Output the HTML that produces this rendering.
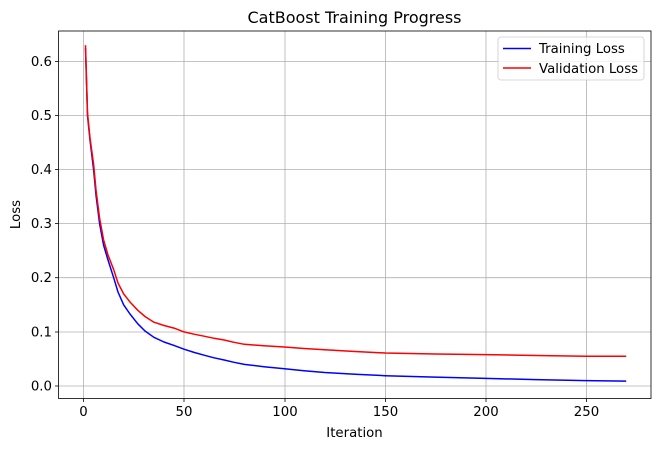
<!DOCTYPE html>
<html><head><style>body{margin:0;background:#fff}svg{display:block;font-family:"DejaVu Sans","Liberation Sans",sans-serif}</style></head><body>
<svg width="660" height="449" viewBox="0 0 660 449" xmlns="http://www.w3.org/2000/svg">
<rect width="660" height="449" fill="#fff"/>
<g stroke="#b0b0b0" stroke-width="0.8">
<line x1="83.5" y1="31" x2="83.5" y2="398.5"/><line x1="184" y1="31" x2="184" y2="398.5"/><line x1="285" y1="31" x2="285" y2="398.5"/><line x1="385.5" y1="31" x2="385.5" y2="398.5"/><line x1="486" y1="31" x2="486" y2="398.5"/><line x1="586.5" y1="31" x2="586.5" y2="398.5"/>
<line x1="58.5" y1="386" x2="651" y2="386"/><line x1="58.5" y1="332" x2="651" y2="332"/><line x1="58.5" y1="277.7" x2="651" y2="277.7"/><line x1="58.5" y1="223.6" x2="651" y2="223.6"/><line x1="58.5" y1="169.6" x2="651" y2="169.6"/><line x1="58.5" y1="115.5" x2="651" y2="115.5"/><line x1="58.5" y1="61.5" x2="651" y2="61.5"/>
</g>
<polyline fill="none" stroke="#0000ff" stroke-width="1.5" stroke-linejoin="round" points="85.5,48 87.5,115.5 90,140 93.6,169.6 96,195 99.6,223.7 103.6,245.3 108,260 113.7,277.8 118,292 123.7,304.9 130,314 137.8,323.8 145,331 153.9,337.3 164,342 174,345.4 184,349.2 194,352.4 204.1,355.2 214,357.8 224.2,360 234,362.3 244.3,364.4 264,366.7 284.5,368.7 304,370.7 324.7,372.5 355,374.2 385,375.7 435,377.1 485.5,378.4 536,379.6 586,380.6 626.2,381.1"/>
<polyline fill="none" stroke="#ff0000" stroke-width="1.5" stroke-linejoin="round" points="85.5,45.2 87.5,113 90,138 93.6,164.2 96,190 99.6,218.3 103.6,239.9 108,255 113.7,269.7 118,283 123.7,294 130,302 137.8,310.3 145,316.5 153.9,322.2 164,325.5 174,328.1 184,331.9 194,334.2 204.1,336.2 214,338.3 224.2,340 234,342.3 244.3,344.3 264,345.8 284.5,347 304,348.5 324.7,349.8 355,351.5 385,353 435,354 485.5,354.6 536,355.5 586,356.2 626.2,356.2"/>
<rect x="58.5" y="31" width="592.5" height="367.5" fill="none" stroke="#000" stroke-width="0.8"/>
<g stroke="#000" stroke-width="0.8">
<line x1="83.5" y1="398.5" x2="83.5" y2="402"/><line x1="184" y1="398.5" x2="184" y2="402"/><line x1="285" y1="398.5" x2="285" y2="402"/><line x1="385.5" y1="398.5" x2="385.5" y2="402"/><line x1="486" y1="398.5" x2="486" y2="402"/><line x1="586.5" y1="398.5" x2="586.5" y2="402"/>
<line x1="55" y1="386" x2="58.5" y2="386"/><line x1="55" y1="332" x2="58.5" y2="332"/><line x1="55" y1="277.7" x2="58.5" y2="277.7"/><line x1="55" y1="223.6" x2="58.5" y2="223.6"/><line x1="55" y1="169.6" x2="58.5" y2="169.6"/><line x1="55" y1="115.5" x2="58.5" y2="115.5"/><line x1="55" y1="61.5" x2="58.5" y2="61.5"/>
</g>
<g font-size="13.3" fill="#000" text-anchor="middle">
<text x="83.5" y="416">0</text><text x="184" y="416">50</text><text x="285" y="416">100</text><text x="385.5" y="416">150</text><text x="486" y="416">200</text><text x="586.5" y="416">250</text>
</g>
<g font-size="13.3" fill="#000" text-anchor="end">
<text x="52" y="390.5">0.0</text><text x="52" y="336.5">0.1</text><text x="52" y="282.2">0.2</text><text x="52" y="228.1">0.3</text><text x="52" y="174.1">0.4</text><text x="52" y="120">0.5</text><text x="52" y="66">0.6</text>
</g>
<text x="354.5" y="437" font-size="13.3" text-anchor="middle">Iteration</text>
<text transform="translate(20,214.5) rotate(-90)" font-size="13.3" text-anchor="middle">Loss</text>
<text x="354.5" y="23" font-size="16" text-anchor="middle">CatBoost Training Progress</text>
<rect x="498" y="37" width="146" height="43" rx="3" fill="#fff" fill-opacity="0.8" stroke="#ccc" stroke-width="0.8"/>
<line x1="503" y1="48.5" x2="531" y2="48.5" stroke="#0000ff" stroke-width="1.5"/>
<line x1="503" y1="68" x2="531" y2="68" stroke="#ff0000" stroke-width="1.5"/>
<text x="539" y="53" font-size="13.3">Training Loss</text>
<text x="539" y="73" font-size="13.3">Validation Loss</text>
</svg>
</body></html>
